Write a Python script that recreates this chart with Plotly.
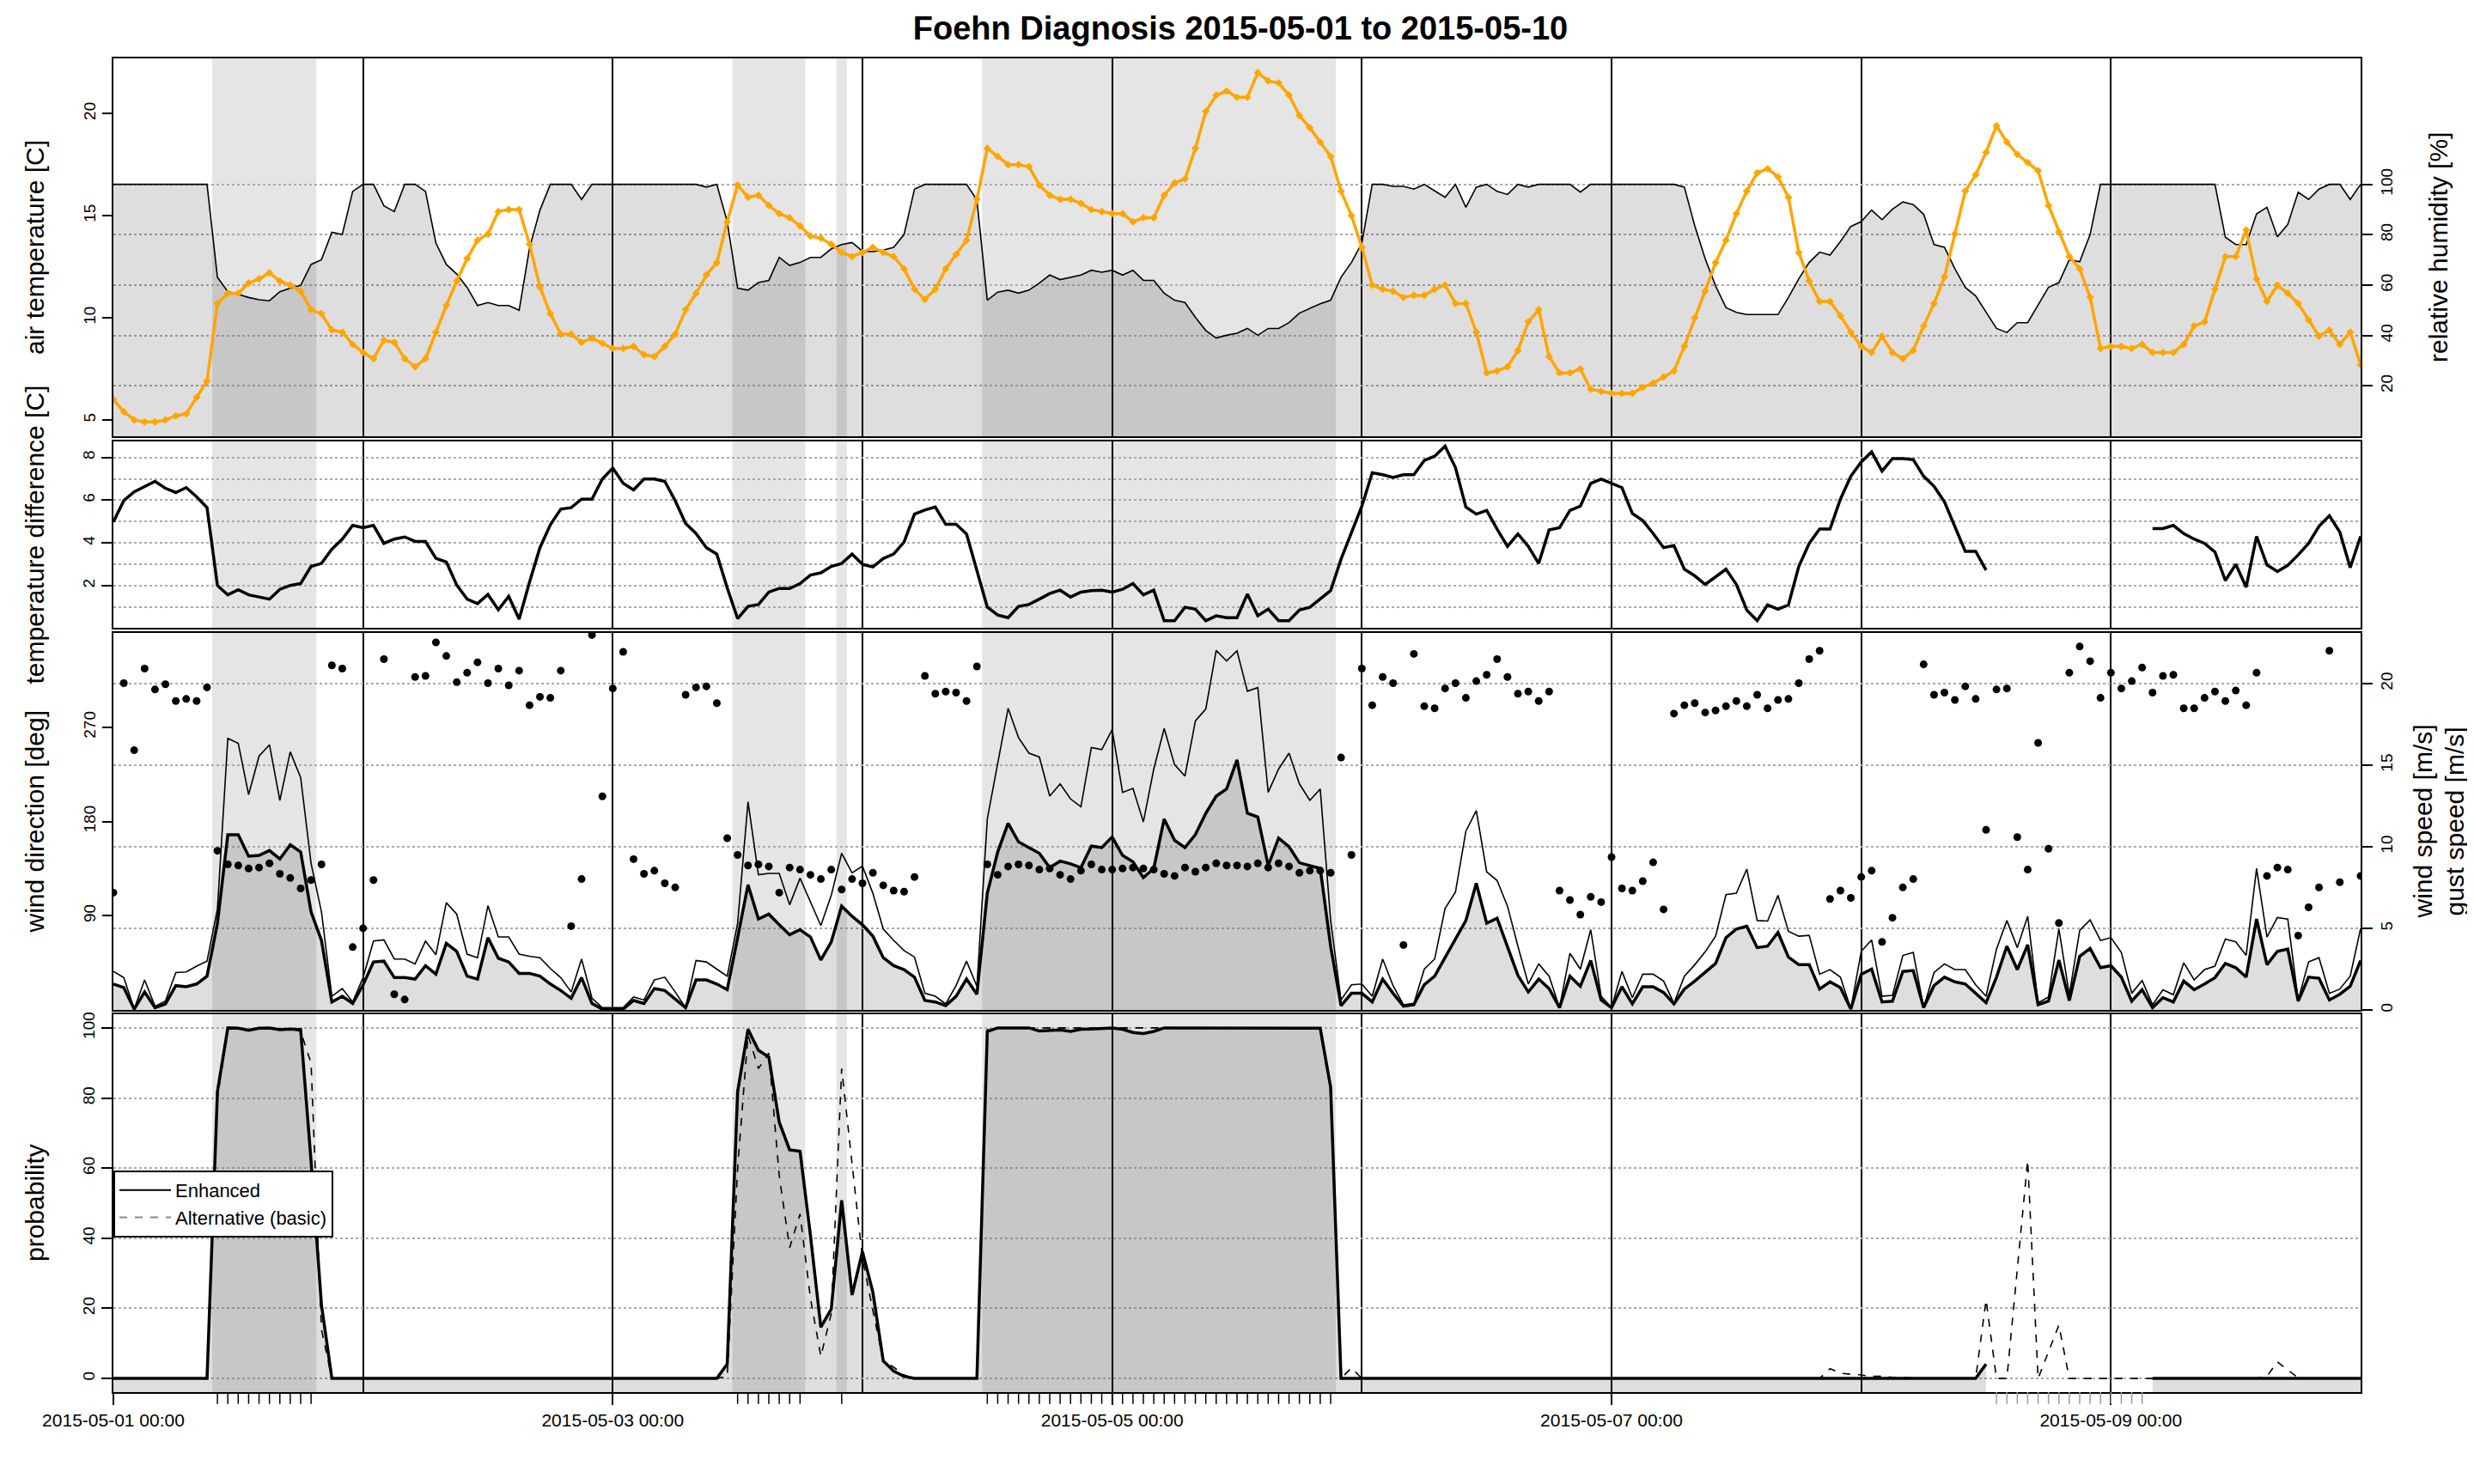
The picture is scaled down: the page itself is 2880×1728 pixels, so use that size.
import pandas as pd
import plotly.graph_objects as go

# hourly observations 2015-05-01 00:00 ... 2015-05-10 00:00 (217 values)
start_time = "2015-05-01 00:00"
end_time = "2015-05-10 00:00"

air_temp = [
    6.0, 5.4, 5.0, 4.9, 4.9, 5.0, 5.2, 5.3, 6.1, 6.9, 10.7, 11.2, 11.2, 11.7, 11.9, 12.2, 11.8, 11.6, 11.3, 10.4, 10.2, 9.4, 9.3, 8.7,
    8.3, 8.0, 8.9, 8.8, 8.0, 7.6, 8.0, 9.3, 10.6, 11.8, 12.9, 13.8, 14.1, 15.2, 15.3, 15.3, 13.6, 11.5, 10.2, 9.2, 9.2, 8.8, 9.0, 8.75,
    8.5, 8.5, 8.6, 8.2, 8.1, 8.6, 9.2, 10.4, 11.2, 12.1, 12.7, 14.7, 16.5, 15.9, 16.0, 15.5, 15.1, 14.9, 14.5, 14.0, 13.9, 13.6, 13.2, 13.0,
    13.2, 13.45, 13.2, 13.0, 12.4, 11.4, 10.9, 11.4, 12.4, 13.1, 13.8, 15.8, 18.3, 17.9, 17.5, 17.5, 17.4, 16.5, 16.0, 15.8, 15.8, 15.6, 15.3, 15.2,
    15.1, 15.1, 14.7, 14.9, 14.9, 16.0, 16.6, 16.8, 18.3, 20.1, 20.9, 21.1, 20.8, 20.8, 22.0, 21.6, 21.5, 20.9, 19.9, 19.3, 18.6, 17.9, 16.2, 15.0,
    13.45, 11.6, 11.4, 11.3, 11.0, 11.1, 11.1, 11.4, 11.6, 10.7, 10.7, 9.3, 7.3, 7.4, 7.6, 8.4, 9.8, 10.4, 8.1, 7.3, 7.3, 7.5, 6.5, 6.4,
    6.3, 6.3, 6.3, 6.6, 6.8, 7.1, 7.4, 8.6, 10.0, 11.3, 12.7, 13.8, 15.1, 16.2, 17.1, 17.3, 16.9, 15.9, 13.2, 11.8, 10.8, 10.8, 10.1, 9.3,
    8.6, 8.3, 9.1, 8.3, 8.0, 8.4, 9.6, 10.7, 12.0, 14.1, 16.2, 17.0, 18.1, 19.4, 18.6, 18.0, 17.6, 17.2, 15.5, 14.2, 13.0, 12.4, 11.0, 8.5,
    8.6, 8.6, 8.5, 8.7, 8.3, 8.3, 8.3, 8.7, 9.6, 9.8, 11.4, 13.0, 13.0, 14.3, 11.9, 10.8, 11.6, 11.2, 10.7, 9.9, 9.1, 9.4, 8.7, 9.3, 7.7,
]

rel_hum = [
    100, 100, 100, 100, 100, 100, 100, 100, 100, 100, 63.1, 57.4, 56.3, 55.1, 54.2, 53.8, 57.4, 58.8, 59.9, 68.2, 70.1, 81.0, 80.1, 97.2,
    100, 100, 91.5, 89.2, 100, 100, 97.2, 76.7, 68.2, 64.4, 59.1, 51.9, 53.1, 51.9, 51.9, 50.0, 74.7, 89.8, 100, 100, 100, 94.0, 100, 100,
    100, 100, 100, 100, 100, 100, 100, 100, 100, 98.9, 100, 85.2, 58.8, 58.0, 61.0, 61.9, 71.0, 67.8, 69.0, 71.0, 71.0, 74.4, 76.1, 76.9,
    73.5, 73.3, 73.9, 75.0, 80.1, 98.1, 100, 100, 100, 100, 100, 93.8, 54.0, 57.2, 58.0, 56.8, 58.0, 60.8, 64.0, 62.2, 63.1, 64.0, 65.9, 65.1,
    65.9, 64.0, 65.9, 61.9, 61.9, 56.8, 54.0, 53.1, 47.2, 42.0, 39.0, 40.1, 40.9, 42.8, 40.1, 42.8, 42.8, 45.1, 48.9, 50.8, 52.6, 54.0, 63.1, 69.0,
    76.7, 100, 100, 99.2, 99.2, 98.1, 100, 97.4, 94.9, 100, 90.9, 98.9, 100, 97.2, 96.0, 100, 98.9, 100, 100, 100, 100, 96.9, 100, 100,
    100, 100, 100, 100, 100, 100, 100, 98.9, 83.5, 70.5, 59.7, 51.1, 49.2, 48.3, 48.3, 48.3, 48.3, 55.1, 62.5, 69.0, 73.1, 71.9, 77.3, 83.3,
    85.2, 89.8, 86.0, 90.1, 93.0, 92.0, 88.1, 76.1, 75.0, 66.5, 59.1, 55.7, 49.4, 42.8, 41.2, 45.1, 45.1, 52.3, 59.1, 61.0, 70.1, 69.3, 80.1, 100,
    100, 100, 100, 100, 100, 100, 100, 100, 100, 100, 100, 79.0, 76.1, 76.1, 88.3, 90.9, 79.2, 84.1, 96.9, 94.0, 98.1, 100, 100, 94.0, 100,
]

temp_diff = [
    4.98, 5.98, 6.39, 6.65, 6.88, 6.56, 6.36, 6.59, 6.16, 5.65, 2.01, 1.57, 1.81, 1.57, 1.47, 1.37, 1.83, 2.01, 2.10, 2.90, 3.04, 3.71, 4.18, 4.82,
    4.71, 4.82, 3.98, 4.18, 4.28, 4.07, 4.07, 3.28, 3.11, 2.03, 1.37, 1.16, 1.59, 0.87, 1.50, 0.43, 2.17, 3.78, 4.85, 5.58, 5.65, 6.05, 6.05, 6.99,
    7.50, 6.79, 6.48, 6.99, 6.99, 6.88, 5.98, 4.91, 4.44, 3.78, 3.48, 1.90, 0.46, 1.03, 1.12, 1.70, 1.87, 1.87, 2.10, 2.50, 2.60, 2.90, 3.04, 3.48,
    3.00, 2.88, 3.27, 3.48, 4.04, 5.35, 5.54, 5.68, 4.87, 4.87, 4.42, 2.70, 1.00, 0.63, 0.50, 1.03, 1.12, 1.37, 1.63, 1.79, 1.47, 1.70, 1.77, 1.79,
    1.70, 1.83, 2.10, 1.57, 1.79, 0.36, 0.36, 0.99, 0.90, 0.36, 0.59, 0.50, 0.50, 1.61, 0.59, 0.90, 0.36, 0.36, 0.86, 0.99, 1.37, 1.77, 3.24, 4.44,
    5.72, 7.28, 7.19, 7.06, 7.19, 7.19, 7.86, 8.06, 8.53, 7.52, 5.68, 5.35, 5.52, 4.65, 3.84, 4.42, 3.84, 3.04, 4.61, 4.71, 5.52, 5.72, 6.79, 6.99,
    6.79, 6.59, 5.38, 5.05, 4.44, 3.78, 3.88, 2.77, 2.46, 2.06, 2.41, 2.77, 2.06, 0.86, 0.36, 1.10, 0.90, 1.10, 2.90, 3.98, 4.65, 4.65, 6.05, 7.12,
    7.79, 8.26, 7.36, 7.95, 7.95, 7.90, 7.12, 6.65, 5.92, 4.78, 3.61, 3.61, 2.73, None, None, None, None, None, None, None, None, None, None, None,
    None, None, None, None, 4.67, 4.67, 4.82, 4.44, 4.18, 3.98, 3.57, 2.24, 3.00, 1.93, 4.31, 2.97, 2.66, 2.95, 3.44, 3.98, 4.78, 5.27, 4.51, 2.84, 4.31,
]

wind_dir = [
    112, 312, 248, 326, 306, 311, 295, 297, 295, 308, 152, 139, 138, 135, 136, 140, 130, 126, 116, 124, 139, 329, 326, 60,
    78, 124, 335, 15, 10, 318, 319, 351, 338, 313, 322, 332, 312, 326, 310, 324, 291, 299, 298, 324, 80, 125, 358, 204,
    307, 342, 144, 130, 133, 121, 117, 301, 308, 309, 293, 164, 148, 138, 139, 137, 112, 136, 134, 129, 125, 134, 115, 125,
    121, 131, 119, 114, 113, 127, 319, 302, 304, 303, 295, 328, 139, 129, 137, 139, 138, 134, 135, 129, 125, 133, 139, 134,
    134, 135, 136, 135, 134, 130, 128, 136, 132, 136, 140, 138, 138, 137, 140, 136, 140, 137, 131, 133, 133, 131, 241, 148,
    326, 291, 318, 312, 62, 340, 290, 288, 307, 312, 298, 314, 320, 335, 318, 302, 304, 295, 304, 114, 105, 91, 108, 103,
    146, 116, 114, 123, 141, 96, 283, 291, 293, 284, 286, 290, 295, 290, 301, 288, 296, 297, 312, 335, 343, 106, 114, 107,
    127, 133, 65, 88, 117, 125, 330, 301, 303, 296, 309, 297, 172, 306, 307, 165, 134, 255, 154, 83, 322, 347, 333, 298,
    322, 307, 314, 327, 303, 319, 320, 288, 288, 298, 304, 295, 305, 291, 322, 128, 136, 134, 71, 98, 117, 343, 122, None, 128,
]

wind_speed = [
    1.59, 1.37, 0.05, 1.10, 0.14, 0.37, 1.49, 1.42, 1.59, 2.07, 5.31, 10.74, 10.74, 9.42, 9.47, 9.77, 9.25, 10.12, 9.68, 6.01, 4.26, 0.49, 0.84, 0.40,
    1.54, 2.94, 2.99, 1.98, 1.98, 1.89, 2.71, 2.19, 4.08, 3.59, 2.07, 1.89, 4.43, 3.17, 2.94, 2.24, 2.24, 2.07, 1.59, 1.19, 0.72, 1.98, 0.40, 0.05,
    0.05, 0.05, 0.58, 0.40, 1.31, 1.19, 0.67, 0.14, 1.84, 1.84, 1.59, 1.24, 4.43, 7.67, 5.57, 5.87, 5.22, 4.61, 4.92, 4.47, 3.06, 4.17, 6.36, 5.74,
    5.22, 4.52, 3.20, 2.71, 2.47, 2.01, 0.58, 0.49, 0.26, 0.84, 1.89, 0.96, 7.15, 9.68, 11.44, 10.30, 9.95, 9.60, 8.72, 9.12, 8.95, 8.72, 10.04, 9.95,
    10.60, 9.47, 9.07, 8.11, 8.67, 11.70, 10.39, 9.95, 10.74, 12.05, 13.10, 13.54, 15.32, 12.05, 11.82, 8.84, 10.53, 10.00, 9.02, 8.84, 8.67, 3.91, 0.26, 1.02,
    1.02, 0.49, 1.89, 1.02, 0.23, 0.32, 1.54, 2.07, 3.20, 4.34, 5.48, 7.76, 5.31, 5.62, 3.82, 2.12, 1.10, 1.89, 1.31, 0.14, 2.07, 1.45, 3.03, 0.61,
    0.14, 1.42, 0.37, 1.42, 1.42, 1.07, 0.37, 1.28, 1.77, 2.33, 2.85, 4.43, 4.96, 5.13, 3.82, 3.91, 4.75, 3.24, 2.77, 2.77, 1.28, 1.72, 1.37, 0.05,
    2.19, 2.50, 0.49, 0.54, 2.36, 2.42, 0.14, 1.49, 2.01, 1.72, 1.59, 1.02, 0.44, 2.01, 3.91, 2.47, 3.99, 0.32, 0.54, 3.06, 0.58, 3.29, 3.77, 2.59,
    2.71, 2.01, 0.54, 1.24, 0.14, 0.75, 0.49, 1.77, 1.24, 1.59, 1.98, 2.85, 2.59, 2.01, 5.57, 2.77, 3.59, 3.73, 0.54, 2.01, 1.94, 0.61, 0.96, 1.45, 3.03,
]

gust_speed = [
    2.36, 1.98, 0.05, 1.84, 0.23, 0.54, 2.29, 2.33, 2.68, 2.99, 6.18, 16.64, 16.34, 13.19, 15.55, 16.25, 12.84, 15.82, 14.24, 8.98, 6.01, 0.84, 1.31, 0.49,
    1.98, 4.22, 4.29, 3.12, 3.12, 2.82, 4.22, 3.38, 6.57, 5.87, 3.42, 3.20, 6.39, 4.47, 4.47, 3.42, 3.29, 3.20, 2.54, 1.98, 1.10, 3.12, 0.72, 0.14,
    0.14, 0.14, 0.79, 0.61, 1.84, 2.01, 1.10, 0.14, 3.03, 2.94, 2.50, 2.07, 5.31, 12.75, 8.28, 8.37, 8.37, 6.44, 8.07, 6.62, 5.17, 7.02, 9.60, 8.40,
    8.81, 7.15, 4.96, 4.26, 3.64, 3.24, 1.02, 0.84, 0.37, 1.49, 2.99, 1.45, 11.70, 15.11, 18.48, 16.69, 15.73, 15.50, 13.10, 13.85, 12.93, 12.45, 16.08, 15.95,
    17.18, 13.33, 13.57, 11.52, 14.76, 17.25, 15.03, 14.33, 17.71, 18.44, 22.03, 21.38, 22.00, 19.53, 19.75, 13.33, 14.76, 15.73, 13.85, 12.84, 13.54, 5.48, 0.61, 1.54,
    1.59, 0.84, 3.12, 1.49, 0.32, 0.40, 2.50, 3.12, 6.22, 7.23, 10.95, 12.22, 8.46, 7.93, 6.36, 3.91, 1.59, 2.82, 2.07, 0.14, 3.47, 2.50, 4.92, 0.84,
    0.14, 2.36, 0.75, 2.19, 2.19, 1.77, 0.40, 2.07, 2.77, 3.56, 4.52, 7.06, 7.15, 8.63, 5.48, 5.45, 7.02, 4.82, 4.52, 4.57, 2.19, 2.47, 2.01, 0.05,
    3.59, 4.29, 0.84, 0.89, 3.34, 3.52, 0.14, 2.29, 2.82, 2.47, 2.47, 1.54, 0.84, 3.73, 5.48, 3.82, 5.74, 0.44, 0.79, 4.96, 0.93, 4.87, 5.52, 4.26,
    4.43, 3.52, 1.02, 1.80, 0.32, 1.24, 0.93, 2.89, 1.84, 2.47, 2.68, 4.34, 4.17, 3.34, 8.67, 4.47, 5.66, 5.57, 0.61, 2.94, 3.20, 1.02, 1.28, 2.07, 4.99,
]

prob_enhanced = [
    0, 0, 0, 0, 0, 0, 0, 0, 0, 0, 81.8, 100, 99.9, 99.3, 99.9, 100, 99.5, 99.7, 99.5, 62, 21, 0, 0, 0,
    0, 0, 0, 0, 0, 0, 0, 0, 0, 0, 0, 0, 0, 0, 0, 0, 0, 0, 0, 0, 0, 0, 0, 0,
    0, 0, 0, 0, 0, 0, 0, 0, 0, 0, 0, 4.1, 81.8, 99.6, 93.6, 91.7, 73.1, 65.2, 64.8, 40.8, 14.6, 19.8, 50.8, 23.8,
    36.2, 24.6, 5.0, 2.1, 0.6, 0, 0, 0, 0, 0, 0, 0, 99.0, 100, 100, 100, 100, 99.1, 99.2, 99.4, 99.0, 99.6, 99.7, 99.8,
    100, 99.6, 98.7, 98.4, 99.0, 100, 100, 100, 100, 100, 100, 100, 100, 100, 100, 100, 100, 100, 100, 100, 99.9, 83.1, 0, 0,
    0, 0, 0, 0, 0, 0, 0, 0, 0, 0, 0, 0, 0, 0, 0, 0, 0, 0, 0, 0, 0, 0, 0, 0,
    0, 0, 0, 0, 0, 0, 0, 0, 0, 0, 0, 0, 0, 0, 0, 0, 0, 0, 0, 0, 0, 0, 0, 0,
    0, 0, 0, 0, 0, 0, 0, 0, 0, 0, 0, 0, 4.1, None, None, None, None, None, None, None, None, None, None, None,
    None, None, None, None, 0, 0, 0, 0, 0, 0, 0, 0, 0, 0, 0, 0, 0, 0, 0, 0, 0, 0, 0, 0, 0,
]

prob_basic = [
    0, 0, 0, 0, 0, 0, 0, 0, 0, 0, 80, 100, 99.9, 99.5, 99.9, 100, 99.7, 99.8, 99, 90, 14, 0, 0, 0,
    0, 0, 0, 0, 0, 0, 0, 0, 0, 0, 0, 0, 0, 0, 0, 0, 0, 0, 0, 0, 0, 0, 0, 0,
    0, 0, 0, 0, 0, 0, 0, 0, 0, 0, 0, 0.6, 60, 98, 88.4, 92.8, 57.8, 37.3, 46.9, 22.9, 6.3, 18.5, 88.4, 61.3,
    34.2, 19.4, 5.0, 3.2, 1.0, 0, 0, 0, 0, 0, 0, 0, 99.5, 100, 100, 100, 100, 100, 100, 100, 100, 100, 100, 100,
    100, 100, 100, 100, 100, 100, 100, 100, 100, 100, 100, 100, 100, 100, 100, 100, 100, 100, 100, 100, 100, 82.3, 0, 3,
    0, 0, 0, 0, 0, 0, 0, 0, 0, 0, 0, 0, 0, 0, 0, 0, 0, 0, 0, 0, 0, 0, 0, 0,
    0, 0, 0, 0, 0, 0, 0, 0, 0, 0, 0, 0, 0, 0, 0, 0, 0, 0, 0, 0, 0, 2.8, 1.5, 1.2,
    1.0, 0.6, 0.6, 0.3, 0.3, 0.1, 0, 0, 0, 0, 0, 0, 22.4, 0, 0, 31, 62.2, 0, 7.6, 15.2, 0, 0, 0, 0,
    0, 0, 0, 0, 0, 0, 0, 0, 0, 0, 0, 0, 0, 0, 0, 0.6, 4.7, 2.4, 0.2, 0, 0, 0, 0, 0, 0,
]

# hours (since start) flagged as foehn, and hours with missing diagnosis
foehn_hours = [10, 11, 12, 13, 14, 15, 16, 17, 18, 19,
               60, 61, 62, 63, 64, 65, 66, 70,
               84, 85, 86, 87, 88, 89, 90, 91, 92, 93, 94, 95, 96, 97, 98, 99, 100,
               101, 102, 103, 104, 105, 106, 107, 108, 109, 110, 111, 112, 113, 114, 115, 116, 117]
missing_hours = [181, 182, 183, 184, 185, 186, 187, 188, 189, 190, 191, 192, 193, 194, 195]

times = pd.date_range(start_time, end_time, freq="h")
HOUR = pd.Timedelta(hours=1)

FONT = "Liberation Sans, Arial, Helvetica, sans-serif"
FILL = "rgba(0,0,0,0.13)"
SHADE = "#E5E5E5"
ORANGE = "#FFA500"
PROB_LO = -3.9

# page layout in window pixels (the page body has an 8px margin)
W, H, OFF = 2872, 1720, 8


def px_x(v):
    return (v - OFF) / W


def px_y(v):
    return 1 - (v - OFF) / H


XDOM = [px_x(132), px_x(2748)]
P1 = [px_y(508), px_y(68)]
P2 = [px_y(731), px_y(514)]
P3 = [px_y(1176), px_y(737)]
P4 = [px_y(1621), px_y(1181)]

fig = go.Figure()

# ---- panel 1: relative humidity (base, right) + air temperature (overlay, left)
fig.add_trace(go.Scatter(x=times, y=rel_hum, mode="lines", fill="tozeroy", fillcolor=FILL,
                         line=dict(color="black", width=1.6), xaxis="x", yaxis="y", showlegend=False))
fig.add_trace(go.Scatter(x=times, y=air_temp, mode="lines+markers",
                         line=dict(color=ORANGE, width=3.5),
                         marker=dict(symbol="diamond", size=7, color=ORANGE),
                         xaxis="x", yaxis="y5", showlegend=False))

# ---- panel 2: temperature difference
fig.add_trace(go.Scatter(x=times, y=temp_diff, mode="lines", connectgaps=False,
                         line=dict(color="black", width=3.5), xaxis="x2", yaxis="y2", showlegend=False))

# ---- panel 3: wind speed / gusts (base, right) + wind direction (overlay, left)
fig.add_trace(go.Scatter(x=times, y=wind_speed, mode="lines", fill="tozeroy", fillcolor=FILL,
                         line=dict(color="black", width=3.5), xaxis="x3", yaxis="y3", showlegend=False))
fig.add_trace(go.Scatter(x=times, y=gust_speed, mode="lines",
                         line=dict(color="black", width=1.6), xaxis="x3", yaxis="y3", showlegend=False))
fig.add_trace(go.Scatter(x=times, y=wind_dir, mode="markers",
                         marker=dict(color="black", size=9), xaxis="x3", yaxis="y6", showlegend=False))


# ---- panel 4: probabilities, filled from the bottom of the panel
def segments(vals):
    out, cur = [], []
    for i, v in enumerate(vals):
        if v is None:
            if cur:
                out.append(cur)
            cur = []
        else:
            cur.append(i)
    if cur:
        out.append(cur)
    return out


for seg in segments(prob_enhanced):
    xs = times[seg[0]:seg[-1] + 1]
    fig.add_trace(go.Scatter(x=xs, y=[PROB_LO] * len(seg), mode="lines", line=dict(width=0),
                             xaxis="x4", yaxis="y4", showlegend=False, hoverinfo="skip"))
    fig.add_trace(go.Scatter(x=xs, y=[prob_enhanced[i] for i in seg], mode="lines", fill="tonexty",
                             fillcolor=FILL, line=dict(width=0), xaxis="x4", yaxis="y4", showlegend=False))

fig.add_trace(go.Scatter(x=times, y=prob_basic, mode="lines", line=dict(color="black", width=1.6, dash="dash"),
                         xaxis="x4", yaxis="y4", showlegend=False))
fig.add_trace(go.Scatter(x=times, y=prob_enhanced, mode="lines", connectgaps=False,
                         line=dict(color="black", width=3.5), xaxis="x4", yaxis="y4", showlegend=False))

# legend entries
fig.add_trace(go.Scatter(x=[None], y=[None], mode="lines", name="Enhanced",
                         line=dict(color="black", width=2), xaxis="x4", yaxis="y4"))
fig.add_trace(go.Scatter(x=[None], y=[None], mode="lines", name="Alternative (basic)",
                         line=dict(color="#888888", width=2, dash="dash"), xaxis="x4", yaxis="y4"))

# ---- foehn shading on all panels
blocks = []
for h in foehn_hours:
    if blocks and h == blocks[-1][1] + 1:
        blocks[-1][1] = h
    else:
        blocks.append([h, h])

shapes = []
for yref in ["y", "y2", "y3", "y4"]:
    for a, b in blocks:
        shapes.append(dict(type="rect", xref="x" if yref == "y" else "x" + yref[1:],
                           yref=yref + " domain", x0=times[a] - HOUR / 2, x1=times[b] + HOUR / 2,
                           y0=0, y1=1, fillcolor=SHADE, line=dict(width=0), layer="below"))

# rug marks under the bottom axis
for h in foehn_hours:
    shapes.append(dict(type="line", xref="x4", yref="y4 domain", x0=times[h], x1=times[h],
                       y0=0, y1=-0.031, line=dict(color="black", width=1.5)))
for h in missing_hours:
    shapes.append(dict(type="line", xref="x4", yref="y4 domain", x0=times[h], x1=times[h],
                       y0=0, y1=-0.031, line=dict(color="#999999", width=1.5)))

tickfont = dict(family=FONT, size=19, color="black")
grid = dict(showgrid=True, gridcolor="#AAAAAA", griddash="dot", gridwidth=2)


def yaxis(domain, rng, tickvals, side, base=True, **kw):
    d = dict(domain=domain, range=rng, tickvals=tickvals, side=side, tickangle=-90,
             ticks="outside", ticklen=12, tickwidth=2, tickcolor="black", tickfont=tickfont,
             zeroline=False, fixedrange=True, automargin=False)
    if base:
        d.update(showline=True, linecolor="black", linewidth=2, mirror=True, **grid)
    else:
        d.update(showline=False, showgrid=False)
    d.update(kw)
    return d


def xaxis(anchor, bottom=False):
    d = dict(domain=XDOM, anchor=anchor, type="date", range=[start_time, end_time],
             showline=True, linecolor="black", linewidth=2, mirror=True, zeroline=False,
             showgrid=True, gridcolor="black", gridwidth=1.6, fixedrange=True, automargin=False)
    if bottom:
        d.update(tick0=start_time, dtick=2 * 86400000, ticks="outside", ticklen=13, tickwidth=2,
                 tickcolor="black", tickformat="%Y-%m-%d %H:%M",
                 tickfont=dict(family=FONT, size=21, color="black"),
                 minor=dict(tick0=start_time, dtick=86400000, showgrid=True, gridcolor="black",
                            gridwidth=1.6, griddash="solid", ticks=""))
    else:
        d.update(tick0=start_time, dtick=86400000, ticks="", showticklabels=False)
    return d


fig.update_layout(
    width=W, height=H,
    margin=dict(l=0, r=0, t=0, b=0, autoexpand=False),
    paper_bgcolor="white", plot_bgcolor="white",
    title=dict(text="<b>Foehn Diagnosis 2015-05-01 to 2015-05-10</b>", x=0.5, xanchor="center",
               y=px_y(33), yanchor="middle", font=dict(family=FONT, size=38, color="black")),
    xaxis=xaxis("y"), xaxis2=xaxis("y2"), xaxis3=xaxis("y3"), xaxis4=xaxis("y4", bottom=True),
    yaxis=yaxis(P1, [0, 150], [20, 40, 60, 80, 100], "right", anchor="x"),
    yaxis5=yaxis(P1, [4.2, 22.7], [5, 10, 15, 20], "left", base=False, anchor="x", overlaying="y"),
    yaxis2=yaxis(P2, [0.03, 8.75], [2, 4, 6, 8], "left", anchor="x2",
                 minor=dict(dtick=1, showgrid=True, gridcolor="#AAAAAA", griddash="dot", gridwidth=2, ticks="")),
    yaxis3=yaxis(P3, [0, 23.1], [0, 5, 10, 15, 20], "right", anchor="x3"),
    yaxis6=yaxis(P3, [0, 360], [90, 180, 270], "left", base=False, anchor="x3", overlaying="y3"),
    yaxis4=yaxis(P4, [PROB_LO, 103.9], [0, 20, 40, 60, 80, 100], "left", anchor="x4"),
    shapes=shapes,
    legend=dict(x=px_x(132), y=px_y(1363), xanchor="left", yanchor="top", bgcolor="white",
                bordercolor="black", borderwidth=2, font=dict(family=FONT, size=22, color="black"),
                itemwidth=60, tracegroupgap=0, traceorder="normal"),
)

# axis titles
title_font = dict(family=FONT, size=30, color="black")
titles = [
    ("air temperature [C]", px_x(40), sum(P1) / 2),
    ("temperature difference [C]", px_x(40), sum(P2) / 2),
    ("wind direction [deg]", px_x(40), sum(P3) / 2),
    ("probability", px_x(40), sum(P4) / 2),
    ("relative humidity [%]", px_x(2838), sum(P1) / 2),
    ("wind speed [m/s]", px_x(2820), sum(P3) / 2),
    ("gust speed [m/s]", px_x(2857), sum(P3) / 2),
]
for text, x, y in titles:
    fig.add_annotation(text=text, x=x, y=y, xref="paper", yref="paper", textangle=-90,
                       showarrow=False, xanchor="center", yanchor="middle", font=title_font)

fig.write_html("out.html")
